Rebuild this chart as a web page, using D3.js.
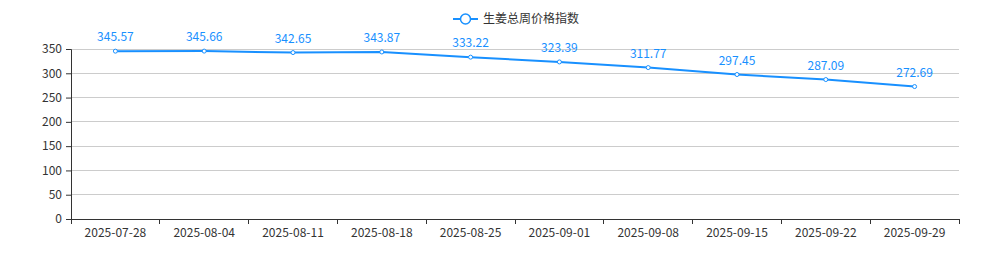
<!DOCTYPE html>
<html>
<head>
<meta charset="utf-8">
<script src="https://cdn.jsdelivr.net/npm/d3@7"></script>
<style>
  body { margin: 0; background: #fff; }
  text { font-family: "Microsoft YaHei", "Noto Sans CJK SC", sans-serif; }
</style>
</head>
<body>
<div id="chart"></div>
<script>
// Data
let dates = ['2025-07-28', '2025-08-04', '2025-08-11', '2025-08-18', '2025-08-25',
  '2025-09-01', '2025-09-08', '2025-09-15', '2025-09-22', '2025-09-29'];
let values = [345.57, 345.66, 342.65, 343.87, 333.22, 323.39, 311.77, 297.45, 287.09, 272.69];
let yTicks = [0, 50, 100, 150, 200, 250, 300, 350];
let seriesName = '生姜总周价格指数';

let width = 994, height = 262;
let margin = { left: 71, right: 35, top: 49, bottom: 43 };
let lineColor = '#1890ff';

let svg = d3.select('#chart').append('svg')
  .attr('width', width)
  .attr('height', height);

let x = d3.scaleBand()
  .domain(dates)
  .range([margin.left, width - margin.right]);

let y = d3.scaleLinear()
  .domain([0, 350])
  .range([height - margin.bottom, margin.top]);

// Grid lines
svg.append('g')
  .selectAll('line')
  .data(yTicks.filter(d => d > 0))
  .join('line')
  .attr('x1', margin.left)
  .attr('x2', width - margin.right)
  .attr('y1', d => y(d))
  .attr('y2', d => y(d))
  .attr('stroke', '#ccc')
  .attr('stroke-width', 1)
  .attr('shape-rendering', 'crispEdges');

// Y axis
let yAxis = svg.append('g')
  .attr('transform', `translate(${margin.left},0)`)
  .call(d3.axisLeft(y).tickValues(yTicks).tickSize(5).tickPadding(4));
yAxis.select('.domain').attr('stroke', '#333');
yAxis.selectAll('.tick line').attr('stroke', '#333');
yAxis.selectAll('.tick text').attr('fill', '#333').style('font-size', '12px');

// X axis - ticks at band boundaries
let xAxis = svg.append('g')
  .attr('transform', `translate(0,${height - margin.bottom})`)
  .call(d3.axisBottom(x).tickSize(0).tickPadding(9));
xAxis.select('.domain').attr('stroke', '#333');
xAxis.selectAll('.tick text').attr('fill', '#333').style('font-size', '12px');
xAxis.selectAll('.bound')
  .data(dates.concat(['end']))
  .join('line')
  .attr('class', 'bound')
  .attr('x1', (d, i) => margin.left + i * x.step())
  .attr('x2', (d, i) => margin.left + i * x.step())
  .attr('y1', 0)
  .attr('y2', 5)
  .attr('stroke', '#333')
  .attr('shape-rendering', 'crispEdges');

let cx = d => x(d) + x.bandwidth() / 2;

// Line
let line = d3.line()
  .x((d, i) => cx(dates[i]))
  .y(d => y(d));

svg.append('path')
  .datum(values)
  .attr('d', line)
  .attr('fill', 'none')
  .attr('stroke', lineColor)
  .attr('stroke-width', 2);

// Points
svg.append('g')
  .selectAll('circle')
  .data(values)
  .join('circle')
  .attr('cx', (d, i) => cx(dates[i]))
  .attr('cy', d => y(d))
  .attr('r', 2)
  .attr('fill', '#fff')
  .attr('stroke', lineColor)
  .attr('stroke-width', 1);

// Labels
svg.append('g')
  .selectAll('text')
  .data(values)
  .join('text')
  .attr('x', (d, i) => cx(dates[i]))
  .attr('y', d => y(d) - 10)
  .attr('text-anchor', 'middle')
  .attr('fill', lineColor)
  .style('font-size', '12px')
  .text(d => d.toFixed(2));

// Legend
let legend = svg.append('g').attr('transform', 'translate(453,19)');
legend.append('line')
  .attr('x1', 0).attr('x2', 25)
  .attr('stroke', lineColor).attr('stroke-width', 2);
legend.append('circle')
  .attr('cx', 12.5).attr('r', 5)
  .attr('fill', '#fff').attr('stroke', lineColor).attr('stroke-width', 1.5);
legend.append('text')
  .attr('x', 30).attr('y', 4)
  .attr('fill', '#333')
  .style('font-size', '12px')
  .text(seriesName);
</script>
</body>
</html>
